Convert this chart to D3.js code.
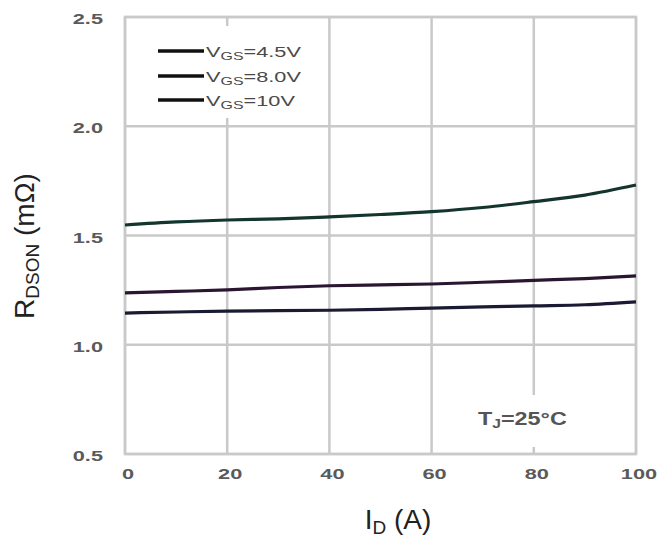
<!DOCTYPE html>
<html><head><meta charset="utf-8">
<script src="https://cdn.jsdelivr.net/npm/d3@7"></script>
<style>body{margin:0;background:#fff}svg{display:block}</style>
</head><body>
<script>
const currents = [0, 10, 20, 30, 40, 50, 60, 70, 80, 90, 100];
const vgs45 = [1.548, 1.562, 1.571, 1.576, 1.585, 1.596, 1.609, 1.628, 1.655, 1.685, 1.731];
const vgs80 = [1.237, 1.244, 1.251, 1.262, 1.270, 1.274, 1.278, 1.286, 1.295, 1.303, 1.315];
const vgs10 = [1.145, 1.150, 1.154, 1.156, 1.158, 1.162, 1.168, 1.173, 1.178, 1.183, 1.196];
const seriesNames = ["4.5V", "8.0V", "10V"];
const seriesColors = ["#14352e", "#2b1632", "#1a1a33"];
const xTicks = [0, 20, 40, 60, 80, 100];
const yTicks = [0.5, 1.0, 1.5, 2.0, 2.5];

const W = 662, H = 537;
const FONT = "Liberation Sans, Arial, sans-serif";
const svg = d3.select("body").append("svg").attr("width", W).attr("height", H);
const x = d3.scaleLinear().domain([0, 100]).range([125, 636]);
const y = d3.scaleLinear().domain([0.5, 2.5]).range([454, 17]);
const grid = "#c9c9c9";

// gridlines
svg.append("g").selectAll("line").data(xTicks).join("line")
  .attr("x1", d => x(d)).attr("x2", d => x(d)).attr("y1", y(2.5)).attr("y2", y(0.5))
  .attr("stroke", grid).attr("stroke-width", 2.5);
svg.append("g").selectAll("line").data(yTicks).join("line")
  .attr("x1", x(0)).attr("x2", x(100)).attr("y1", d => y(d)).attr("y2", d => y(d))
  .attr("stroke", grid).attr("stroke-width", 2.5);
svg.append("rect").attr("x", x(0)).attr("y", y(2.5)).attr("width", x(100) - x(0)).attr("height", y(0.5) - y(2.5))
  .attr("fill", "none").attr("stroke", grid).attr("stroke-width", 2.5);

// white boxes behind legend and annotation
svg.append("rect").attr("x", x(0) + 2).attr("y", 26).attr("width", 195).attr("height", 92).attr("fill", "#fff");
svg.append("rect").attr("x", 470).attr("y", 395).attr("width", 104).attr("height", 52).attr("fill", "#fff");

// axes tick labels (wide lettering as in the reference)
const SX = 1.45;
const xAxis = d3.axisBottom(x).tickValues(xTicks).tickSize(0).tickPadding(0);
const gx = svg.append("g").attr("transform", `translate(0,${y(0.5)})`).call(xAxis);
gx.select(".domain").remove();
gx.selectAll(".tick").attr("transform", d => `translate(${x(d) + 3},25) scale(${SX},1)`);
gx.selectAll("text").attr("y", 0).attr("dy", 0).attr("font-family", FONT).attr("font-size", 15)
  .attr("font-weight", "bold").attr("fill", "#5a5a5a");
const yAxis = d3.axisLeft(y).tickValues(yTicks).tickFormat(d3.format(".1f")).tickSize(0).tickPadding(0);
const gy = svg.append("g").call(yAxis);
gy.select(".domain").remove();
gy.selectAll(".tick").attr("transform", d => `translate(103,${y(d) + 7}) scale(${SX},1)`);
gy.selectAll("text").attr("x", 0).attr("dy", 0).attr("font-family", FONT).attr("font-size", 15)
  .attr("font-weight", "bold").attr("fill", "#5a5a5a");

// curves
const allSeries = [vgs45, vgs80, vgs10];
const line = d3.line().x((d, i) => x(currents[i])).y(d => y(d)).curve(d3.curveMonotoneX);
allSeries.forEach((s, k) => {
  svg.append("path").datum(s).attr("d", line).attr("fill", "none")
    .attr("stroke", seriesColors[k]).attr("stroke-width", 3.2);
});

// legend
const legY = [51, 76, 100];
seriesNames.forEach((n, k) => {
  svg.append("line").attr("x1", 158).attr("x2", 204).attr("y1", legY[k]).attr("y2", legY[k])
    .attr("stroke", "#111").attr("stroke-width", 3.5);
  const t = svg.append("text").attr("transform", `translate(206,${legY[k] + 6}) scale(1.45,1)`)
    .attr("font-family", FONT).attr("font-size", 15).attr("fill", "#4a4a4a");
  t.append("tspan").text("V");
  t.append("tspan").attr("font-size", 11).attr("dy", 3).text("GS");
  t.append("tspan").attr("dy", -3).text("=" + n);
});

// annotation
const ta = svg.append("text").attr("transform", "translate(478,425) scale(1.3,1)")
  .attr("font-family", FONT).attr("font-size", 18).attr("font-weight", "bold").attr("fill", "#555");
ta.append("tspan").text("T");
ta.append("tspan").attr("font-size", 12).attr("dy", 3).text("J");
ta.append("tspan").attr("dy", -3).text("=25°C");

// axis titles
const xt = svg.append("text").attr("x", 398).attr("y", 529).attr("text-anchor", "middle")
  .attr("font-family", FONT).attr("font-size", 28).attr("fill", "#222");
xt.append("tspan").text("I");
xt.append("tspan").attr("font-size", 19).attr("dy", 5).text("D");
xt.append("tspan").attr("dy", -5).text(" (A)");

const yt = svg.append("text").attr("transform", "translate(34,246) rotate(-90)").attr("text-anchor", "middle")
  .attr("font-family", FONT).attr("font-size", 28).attr("fill", "#222");
yt.append("tspan").text("R");
yt.append("tspan").attr("font-size", 19).attr("dy", 5).text("DSON");
yt.append("tspan").attr("dy", -5).text(" (mΩ)");
</script>
</body></html>
